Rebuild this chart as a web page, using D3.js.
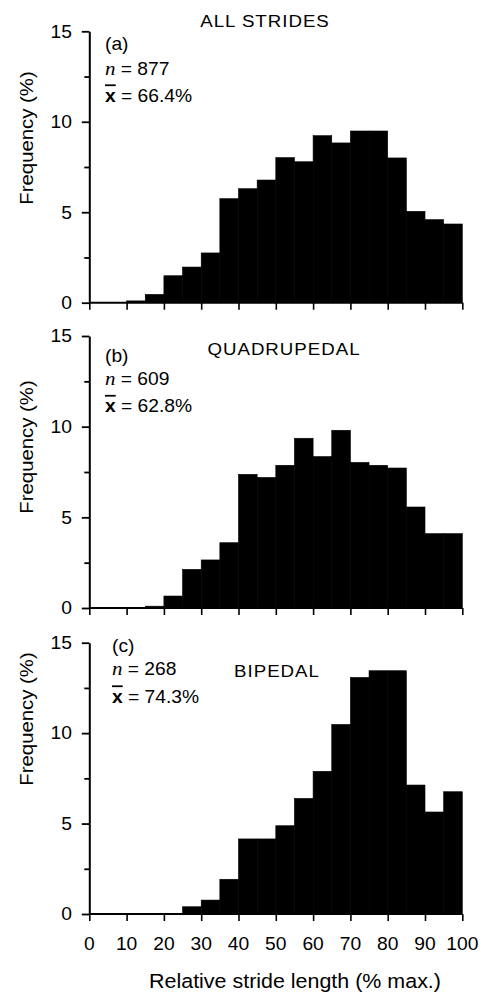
<!DOCTYPE html>
<html>
<head>
<meta charset="utf-8">
<script src="https://cdn.jsdelivr.net/npm/d3@7"></script>
<style>
  body { margin: 0; background: #fff; }
  svg { display: block; }
  text { font-family: "Liberation Sans", Arial, Helvetica, sans-serif; fill: #000; }
</style>
</head>
<body>
<div id="chart"></div>
<script>
// bin starts (% of max stride length), 5% wide
var binStarts = [0, 5, 10, 15, 20, 25, 30, 35, 40, 45, 50, 55, 60, 65, 70, 75, 80, 85, 90, 95];
var binWidth = 5;

// frequency (%) per bin
var allStrides = [0, 0, 0.1, 0.46, 1.49, 1.97, 2.75, 5.75, 6.3, 6.78, 8.02, 7.79, 9.23, 8.83, 9.49, 9.49, 8.0, 5.05, 4.59, 4.35];
var quadrupedal = [0, 0, 0, 0.1, 0.66, 2.13, 2.65, 3.6, 7.37, 7.2, 7.87, 9.36, 8.35, 9.8, 8.03, 7.87, 7.72, 5.57, 4.1, 4.1];
var bipedal = [0, 0, 0, 0, 0, 0.4, 0.77, 1.92, 4.15, 4.15, 4.88, 6.39, 7.89, 10.48, 13.08, 13.45, 13.45, 7.13, 5.64, 6.76];

var panelTitles = ["ALL STRIDES", "QUADRUPEDAL", "BIPEDAL"];
var panelLetters = ["(a)", "(b)", "(c)"];
var sampleSizes = ["877", "609", "268"];
var means = ["66.4%", "62.8%", "74.3%"];

var yTicks = [0, 2.5, 5, 7.5, 10, 12.5, 15];
var yLabels = [0, 5, 10, 15];
var xTicks = [0, 10, 20, 30, 40, 50, 60, 70, 80, 90, 100];

var width = 481, height = 1000;
var SX = 1.1; // the original type is a bit wider than Arial

var svg = d3.select("#chart").append("svg")
    .attr("width", width).attr("height", height);

var x = d3.scaleLinear().domain([0, 100]).range([89.3, 462.3]);

// layout of each panel (plot top/bottom, text spots)
var layout = [
  { top: 31.3, bottom: 302.7, titleX: 265, titleY: 27.3, txtX: 105, l1: 50, l2: 75, l3: 101.5, ylabY: 138 },
  { top: 336, bottom: 608, titleX: 284, titleY: 355, txtX: 105, l1: 361.5, l2: 385, l3: 412, ylabY: 447 },
  { top: 642.7, bottom: 914, titleX: 277, titleY: 677, txtX: 112, l1: 651.5, l2: 675, l3: 702.5, ylabY: 719 }
];
var series = [allStrides, quadrupedal, bipedal];

function stretchText(parent, px, py, size, anchor, rot) {
  var g = parent.append("g")
      .attr("transform", "translate(" + px + "," + py + ")" + (rot ? " rotate(" + rot + ")" : "") + " scale(" + SX + ",1)");
  return g.append("text").attr("font-size", size).attr("text-anchor", anchor || "start");
}

layout.forEach(function(L, p) {
  var y = d3.scaleLinear().domain([0, 15]).range([L.bottom, L.top]);
  var g = svg.append("g");
  var vals = series[p];

  // bars
  g.selectAll("rect.bar").data(binStarts).enter().append("rect")
      .attr("class", "bar")
      .attr("x", function(d) { return x(d); })
      .attr("width", function(d) { return x(d + binWidth) - x(d); })
      .attr("y", function(d, i) { return y(vals[i]); })
      .attr("height", function(d, i) { return L.bottom - y(vals[i]); })
      .attr("fill", "#000")
      .attr("stroke", "#000")
      .attr("stroke-width", 0.6);

  // y axis
  var yAxis = d3.axisLeft(y).tickValues(yTicks).tickSizeOuter(0).tickFormat("");
  var ya = g.append("g").attr("transform", "translate(" + x(0) + ",0)").call(yAxis);
  ya.select(".domain").attr("stroke-width", 2);
  ya.selectAll(".tick line")
      .attr("stroke-width", 1.8)
      .attr("x2", function(d) { return d % 5 === 0 ? -7.5 : -5; });

  yLabels.forEach(function(v) {
    stretchText(g, 72, y(v), 17.5, "end").attr("dy", "0.36em").text(v);
  });

  // x axis
  var xAxis = d3.axisBottom(x).tickValues(xTicks).tickSizeOuter(0).tickSize(7).tickFormat("");
  var xa = g.append("g").attr("transform", "translate(0," + L.bottom + ")").call(xAxis);
  xa.select(".domain").attr("stroke-width", 2).attr("d", "M" + x(0) + ",0H" + x(100));
  xa.selectAll(".tick line").attr("stroke-width", 1.6);

  if (p === 2) {
    xTicks.forEach(function(v) {
      stretchText(g, x(v), 950, 17.5, "middle").text(v);
    });
    stretchText(g, 295, 988, 19.5, "middle").text("Relative stride length (% max.)");
  }

  // y label
  stretchText(g, 33, L.ylabY, 18.5, "middle", -90).text("Frequency (%)");

  // title
  stretchText(g, L.titleX, L.titleY, 17, "middle")
      .attr("letter-spacing", 0.9)
      .text(panelTitles[p]);

  // annotations
  stretchText(g, L.txtX, L.l1, 17.5, "start").text(panelLetters[p]);
  var t2 = stretchText(g, L.txtX, L.l2, 17.5, "start");
  t2.append("tspan").attr("font-family", "Liberation Serif, Times New Roman, serif")
      .attr("font-style", "italic").attr("font-size", 19).text("n");
  t2.append("tspan").text(" = " + sampleSizes[p]);
  var t3 = stretchText(g, L.txtX, L.l3, 17.5, "start");
  t3.append("tspan").attr("font-weight", "bold")
      .style("text-decoration", "overline").text("x");
  t3.append("tspan").text(" = " + means[p]);
});
</script>
</body>
</html>
